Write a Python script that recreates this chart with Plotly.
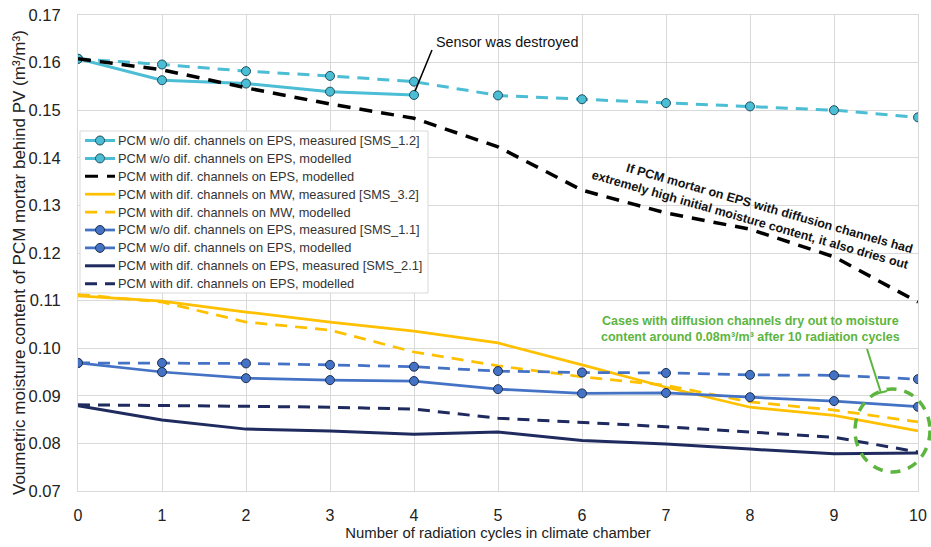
import plotly.graph_objects as go

# Radiation cycles in the climate chamber
cycles = list(range(11))
cycles_sms12 = list(range(5))  # SMS_1.2 sensor stopped after cycle 4

# Volumetric moisture content (m3/m3)
eps_nochan_meas_sms12 = [0.1608, 0.1563, 0.1556, 0.1539, 0.1532]
eps_nochan_mod_a = [0.1608, 0.1596, 0.1582, 0.1572, 0.1560, 0.1531, 0.1523, 0.1515, 0.1508, 0.1500, 0.1485]
eps_chan_mod_high = [0.1608, 0.1585, 0.1547, 0.1513, 0.1483, 0.1423, 0.1332, 0.1284, 0.1250, 0.1192, 0.1097]
mw_chan_meas = [0.1110, 0.1099, 0.1076, 0.1055, 0.1036, 0.1011, 0.0965, 0.0918, 0.0876, 0.0859, 0.0826]
mw_chan_mod = [0.1113, 0.1097, 0.1055, 0.1038, 0.0992, 0.0963, 0.0940, 0.0922, 0.0887, 0.0870, 0.0845]
eps_nochan_meas_sms11 = [0.0969, 0.0950, 0.0937, 0.0933, 0.0931, 0.0914, 0.0905, 0.0906, 0.0897, 0.0889, 0.0877]
eps_nochan_mod_b = [0.0969, 0.0969, 0.0968, 0.0965, 0.0961, 0.0952, 0.0949, 0.0948, 0.0944, 0.0943, 0.0935]
eps_chan_meas_sms21 = [0.0879, 0.0849, 0.0830, 0.0826, 0.0819, 0.0824, 0.0806, 0.0799, 0.0788, 0.0778, 0.0780]
eps_chan_mod = [0.0881, 0.0880, 0.0878, 0.0876, 0.0872, 0.0853, 0.0844, 0.0835, 0.0824, 0.0813, 0.0782]

names = [
    "PCM w/o dif. channels on EPS, measured [SMS_1.2]",
    "PCM w/o dif. channels on EPS, modelled",
    "PCM with dif. channels on EPS, modelled",
    "PCM with dif. channels on MW, measured [SMS_3.2]",
    "PCM with dif. channels on MW, modelled",
    "PCM w/o dif. channels on EPS, measured [SMS_1.1]",
    "PCM w/o dif. channels on EPS, modelled",
    "PCM with dif. channels on EPS, measured [SMS_2.1]",
    "PCM with dif. channels on EPS, modelled",
]

CYAN = "#4BBDD5"
BLACK = "#000000"
YELLOW = "#FFC000"
BLUE = "#4472C4"
NAVY = "#1F2B5F"
GREEN = "#5DB53F"
GRID = "#D9D9D9"
FONT = "Liberation Sans, Arial, sans-serif"
DASH = "12px,8px"

series = [
    (cycles_sms12, eps_nochan_meas_sms12, CYAN, "solid", 3, "#1E4F5C"),
    (cycles, eps_nochan_mod_a, CYAN, DASH, 3, "#1E4F5C"),
    (cycles, eps_chan_mod_high, BLACK, "13px,9px", 3.5, None),
    (cycles, mw_chan_meas, YELLOW, "solid", 2.75, None),
    (cycles, mw_chan_mod, YELLOW, DASH, 2.75, None),
    (cycles, eps_nochan_meas_sms11, BLUE, "solid", 2.75, "#1F3050"),
    (cycles, eps_nochan_mod_b, BLUE, DASH, 2.75, "#1F3050"),
    (cycles, eps_chan_meas_sms21, NAVY, "solid", 3, None),
    (cycles, eps_chan_mod, NAVY, DASH, 3, None),
]

fig = go.Figure()
for name, (xs, ys, color, dash, width, edge) in zip(names, series):
    if edge:
        mode = "lines+markers"
        marker = dict(size=9, color=color, line=dict(color=edge, width=1))
    else:
        mode = "lines"
        marker = None
    fig.add_trace(go.Scatter(
        x=xs, y=ys, name=name, mode=mode, showlegend=False,
        line=dict(color=color, dash=dash, width=width),
        marker=marker,
    ))


def px_to_paper(px, py):
    """Convert a position in page pixels to paper coordinates of the plot area."""
    return (px - 78) / 840, (491 - py) / 476


# compact legend box in the upper-left part of the plot
bx0, by1 = px_to_paper(80, 131)
bx1, by0 = px_to_paper(428, 293)
fig.add_shape(type="rect", xref="paper", yref="paper", x0=bx0, y0=by0, x1=bx1, y1=by1,
              fillcolor="white", line=dict(color=GRID, width=1), layer="above")
row_top, row_pitch = 140.5, 17.9
for i, (name, (_, _, color, dash, width, edge)) in enumerate(zip(names, series)):
    cy = row_top + i * row_pitch
    sx0, sy = px_to_paper(85, cy)
    sx1, _ = px_to_paper(115, cy)
    fig.add_shape(type="line", xref="paper", yref="paper", x0=sx0, y0=sy, x1=sx1, y1=sy,
                  line=dict(color=color, width=min(width, 3), dash=dash), layer="above")
    if edge:
        mx0, my1 = px_to_paper(100 - 4.5, cy - 4.5)
        mx1, my0 = px_to_paper(100 + 4.5, cy + 4.5)
        fig.add_shape(type="circle", xref="paper", yref="paper",
                      x0=mx0, y0=my0, x1=mx1, y1=my1,
                      fillcolor=color, line=dict(color=edge, width=1), layer="above")
    lx, ly = px_to_paper(116, cy)
    fig.add_annotation(x=lx, y=ly, xref="paper", yref="paper", text=name,
                       showarrow=False, xanchor="left", yanchor="middle",
                       font=dict(family=FONT, size=12.8, color="#333333"))

# callout for the destroyed sensor, starting at the last SMS_1.2 reading
last_x = cycles_sms12[-1]
last_y = eps_nochan_meas_sms12[-1]
fig.add_shape(type="line", xref="x", yref="y",
              x0=last_x + 0.012, y0=last_y + 0.0008, x1=4.214, y1=0.16265,
              line=dict(color="black", width=1.5), layer="above")
fig.add_annotation(x=4.235, y=0.16433, xref="x", yref="y", text="Sensor was destroyed",
                   showarrow=False, xanchor="left", yanchor="middle",
                   font=dict(family=FONT, size=14.4, color="#111111"))

# note about the high-initial-moisture scenario
fig.add_annotation(x=8.03, y=0.1286, xref="x", yref="y",
                   text="If PCM mortar on EPS with diffusion channels had<br>"
                        "extremely high initial moisture content, it also dries out",
                   showarrow=False, textangle=16, align="right",
                   font=dict(family=FONT, size=12.5, color="#111111", weight="bold"))

# note about drying of cases with diffusion channels
fig.add_annotation(x=8.0, y=0.1040, xref="x", yref="y",
                   text="Cases with diffusion channels dry out to moisture<br>"
                        "content around 0.08m³/m³ after 10 radiation cycles",
                   showarrow=False, align="center",
                   font=dict(family=FONT, size=12.5, color=GREEN, weight="bold"))

# green leader line and dashed ellipse around the end values
lx0, ly0 = px_to_paper(867, 349)
lx1, ly1 = px_to_paper(881, 393)
fig.add_shape(type="line", xref="paper", yref="paper", x0=lx0, y0=ly0, x1=lx1, y1=ly1,
              line=dict(color=GREEN, width=2), layer="above")
tx0, ty0 = px_to_paper(875, 394)
tx1, ty1 = px_to_paper(887, 391)
fig.add_shape(type="line", xref="paper", yref="paper", x0=tx0, y0=ty0, x1=tx1, y1=ty1,
              line=dict(color=GREEN, width=2), layer="above")
ex0, ey1 = px_to_paper(855, 389)
ex1, ey0 = px_to_paper(930, 472)
fig.add_shape(type="circle", xref="paper", yref="paper", x0=ex0, y0=ey0, x1=ex1, y1=ey1,
              line=dict(color=GREEN, width=3.5, dash="10px,8px"), layer="above")

# y-axis title placed as a rotated label
tx, ty = px_to_paper(19, 263)
fig.add_annotation(x=tx, y=ty, xref="paper", yref="paper", textangle=-90,
                   text="Voumetric moisture content of PCM mortar behind PV (m³/m³)",
                   showarrow=False, xanchor="center", yanchor="middle",
                   font=dict(family=FONT, size=17, color="#222222"))

fig.update_layout(
    width=931, height=547,
    margin=dict(l=78, r=13, t=15, b=56),
    paper_bgcolor="white", plot_bgcolor="white",
    font=dict(family=FONT, color="#222222"),
    showlegend=False,
)
fig.update_xaxes(
    range=[0, 10], dtick=1, tick0=0,
    showgrid=True, gridcolor=GRID, gridwidth=1,
    showline=True, linecolor=GRID, mirror=True, zeroline=False,
    ticks="", ticklabelstandoff=10,
    tickfont=dict(family=FONT, size=16, color="#222222"),
    title=dict(text="Number of radiation cycles in climate chamber",
               font=dict(family=FONT, size=14.9, color="#222222"), standoff=4),
    automargin=False,
)
fig.update_yaxes(
    range=[0.07, 0.17], dtick=0.01, tick0=0.07, tickformat=".2f",
    showgrid=True, gridcolor=GRID, gridwidth=1,
    showline=True, linecolor=GRID, mirror=True, zeroline=False,
    ticks="", ticklabelstandoff=13,
    tickfont=dict(family=FONT, size=16.5, color="#222222"),
    automargin=False,
)

fig.write_html("out.html")
